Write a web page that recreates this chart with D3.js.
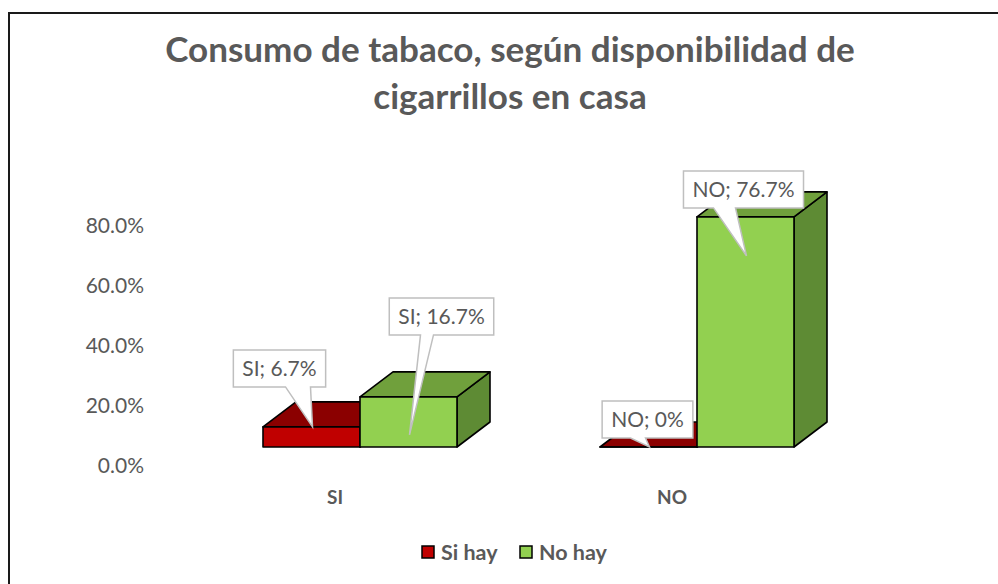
<!DOCTYPE html>
<html>
<head>
<meta charset="utf-8">
<script src="https://cdn.jsdelivr.net/npm/d3@7"></script>
<style>
  body { margin: 0; background: #fff; }
  text { font-family: Lato, "Noto Sans", sans-serif; fill: #595959; }
</style>
</head>
<body>
<svg id="chart" width="998" height="584"></svg>
<script>
// chart values
var categories = ["SI", "NO"];
var seriesNames = ["Si hay", "No hay"];
var siHay = [0.067, 0.0];
var noHay = [0.167, 0.767];
var yTicks = [0, 0.2, 0.4, 0.6, 0.8];

// colours per series: front, top, side
var seriesColors = [
  { front: "#c00000", top: "#8b0000", side: "#6e0000" },
  { front: "#92d050", top: "#70a03c", side: "#5e8b34" }
];

// callout placement relative to bar (box centre dx, box bottom dy, tip dy, pointer base)
var calloutLayout = {
  "Si hay|SI": { bx: -32, bb: -40, tip: 0, p0: 6, p1: 31 },
  "No hay|SI": { bx: 33, bb: -62, tip: 38, p0: -21, p1: -8 },
  "Si hay|NO": { bx: -1, bb: -9, tip: 0, p0: -17, p1: -2 },
  "No hay|NO": { bx: -2, bb: -9, tip: 39, p0: -30, p1: -8 }
};

var depthX = 33, depthY = -25;

var svg = d3.select("#chart");

// outer frame
svg.append("rect")
  .attr("x", 9).attr("y", 13)
  .attr("width", 1000).attr("height", 600)
  .attr("fill", "none").attr("stroke", "#1a1a1a").attr("stroke-width", 2);

// title
var title = svg.append("g").attr("font-weight", "bold");
var t1 = title.append("text").attr("x", 510).attr("y", 62)
  .attr("text-anchor", "middle").attr("font-size", 32)
  .text("Consumo de tabaco, según disponibilidad de");
var fs = 32 * 690 / t1.node().getComputedTextLength();
t1.attr("font-size", fs);
title.append("text").attr("x", 510).attr("y", 109)
  .attr("text-anchor", "middle").attr("font-size", fs)
  .text("cigarrillos en casa");

// scales
var x0 = d3.scaleBand().domain(categories).range([191.5, 865.5]);
var x1 = d3.scaleBand().domain(seriesNames).range([-97, 97]);
var y = d3.scaleLinear().domain([0, 0.8]).range([447, 207]);
var yLabel = d3.scaleLinear().domain([0, 0.8]).range([466, 226]);

// y axis labels
var yAxis = d3.axisLeft(yLabel).tickValues(yTicks).tickFormat(d3.format(".1%")).tickSize(0).tickPadding(0);
var yg = svg.append("g").attr("transform", "translate(144,0)").call(yAxis);
yg.select(".domain").remove();
yg.selectAll("text").attr("font-size", 21).attr("fill", "#595959")
  .style("font-family", "Lato, 'Noto Sans', sans-serif");

// category labels
svg.selectAll(".cat").data(categories).enter().append("text")
  .attr("class", "cat")
  .attr("x", function(d) { return x0(d) + x0.bandwidth() / 2 - 25; })
  .attr("y", 497).attr("dy", "0.35em")
  .attr("text-anchor", "middle").attr("font-weight", "bold").attr("font-size", 19)
  .text(function(d) { return d; });

// build bar records
var seriesValues = [siHay, noHay];
var bars = [];
categories.forEach(function(c, ci) {
  seriesNames.forEach(function(s, si) {
    bars.push({ cat: c, series: s, si: si, value: seriesValues[si][ci] });
  });
});

function barGeom(d) {
  var cx = x0(d.cat) + x0.bandwidth() / 2;
  var xl = cx + x1(d.series);
  var xr = xl + x1.bandwidth();
  return { xl: xl, xr: xr, yt: y(d.value), yb: y(0), cx: (xl + xr) / 2 };
}

function pts(a) { return a.map(function(p) { return p.join(","); }).join(" "); }

var barG = svg.append("g");
bars.forEach(function(d) {
  var g = barGeom(d);
  var col = seriesColors[d.si];
  var bg = barG.append("g").attr("stroke", "#000").attr("stroke-width", 1.6).attr("stroke-linejoin", "round");
  bg.append("polygon").attr("fill", col.side).attr("points", pts([
    [g.xr, g.yb], [g.xr, g.yt], [g.xr + depthX, g.yt + depthY], [g.xr + depthX, g.yb + depthY]
  ]));
  bg.append("polygon").attr("fill", col.top).attr("points", pts([
    [g.xl, g.yt], [g.xr, g.yt], [g.xr + depthX, g.yt + depthY], [g.xl + depthX, g.yt + depthY]
  ]));
  bg.append("polygon").attr("fill", col.front).attr("points", pts([
    [g.xl, g.yb], [g.xr, g.yb], [g.xr, g.yt], [g.xl, g.yt]
  ]));
});

// callouts
var fmt = function(v) { return v === 0 ? "0%" : d3.format(".1%")(v); };
var callG = svg.append("g");
bars.forEach(function(d) {
  var g = barGeom(d);
  var L = calloutLayout[d.series + "|" + d.cat];
  var label = d.cat + "; " + fmt(d.value);
  var cg = callG.append("g");
  var path = cg.append("path");
  var txt = cg.append("text").attr("text-anchor", "middle").attr("font-size", 21).text(label);
  var w = txt.node().getComputedTextLength() + 18;
  var h = 37;
  var bcx = g.cx + L.bx;
  var bb = g.yt + L.bb;
  var left = bcx - w / 2, right = bcx + w / 2, top = bb - h;
  var tipX = g.cx + 1, tipY = g.yt + L.tip;
  path.attr("d", d3.line()([
    [left, top], [right, top], [right, bb], [bcx + L.p1, bb], [tipX, tipY], [bcx + L.p0, bb], [left, bb]
  ]) + "Z")
    .attr("fill", "#fff").attr("stroke", "#bfbfbf").attr("stroke-width", 1.5);
  txt.attr("x", bcx).attr("y", top + h / 2).attr("dy", "0.35em");
});

// legend
var legend = svg.append("g");
var legendX = [422, 520];
seriesNames.forEach(function(s, i) {
  legend.append("rect").attr("x", legendX[i]).attr("y", 546).attr("width", 12).attr("height", 12)
    .attr("fill", seriesColors[i].front).attr("stroke", "#000").attr("stroke-width", 1.5);
  legend.append("text").attr("x", legendX[i] + 19).attr("y", 552).attr("dy", "0.35em")
    .attr("font-weight", "bold").attr("font-size", 21.5).text(s);
});
</script>
</body>
</html>
